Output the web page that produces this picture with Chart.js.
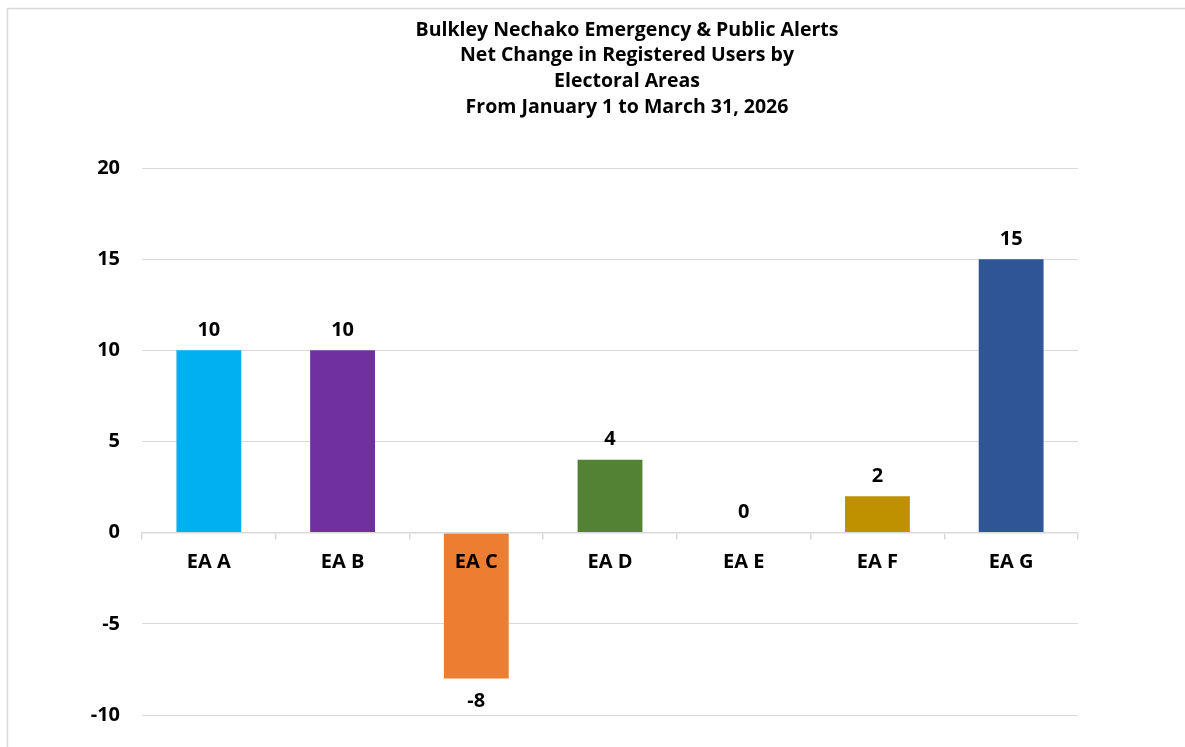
<!DOCTYPE html>
<html>
<head>
<meta charset="utf-8">
<script src="https://cdn.jsdelivr.net/npm/chart.js@4"></script>
<style>
  html, body { margin: 0; padding: 0; background: #fff; overflow: hidden; }
  #wrap { position: absolute; left: 0; top: 0; width: 1185px; height: 747px; overflow: hidden; }
</style>
</head>
<body>
<div id="wrap"><canvas id="c" width="1185" height="749"></canvas></div>
<script>
const titleLines = [
  'Bulkley Nechako Emergency & Public Alerts',
  'Net Change in Registered Users by',
  'Electoral Areas',
  'From January 1 to March 31, 2026'
];
const categories = ['EA A', 'EA B', 'EA C', 'EA D', 'EA E', 'EA F', 'EA G'];
const values = [10, 10, -8, 4, 0, 2, 15];
const barColors = ['#00B0F0', '#7030A0', '#ED7D31', '#548235', '#A5A5A5', '#BF9000', '#2F5597'];
const yMin = -10, yMax = 20, yStep = 5;

const FONT = "'Open Sans', 'Liberation Sans', sans-serif";

const frame = {
  id: 'frame',
  beforeDraw(chart) {
    const ctx = chart.ctx;
    ctx.save();
    ctx.strokeStyle = '#d9d9d9';
    ctx.lineWidth = 1.5;
    ctx.beginPath();
    ctx.moveTo(7.5, chart.height);
    ctx.lineTo(7.5, 8.5);
    ctx.lineTo(chart.width, 8.5);
    ctx.stroke();
    // title
    ctx.font = "bold 19.5px " + FONT;
    ctx.fillStyle = '#000';
    ctx.textAlign = 'center';
    ctx.textBaseline = 'middle';
    titleLines.forEach((t, i) => ctx.fillText(t, 627, 30 + i * 25.7));
    ctx.restore();
  }
};

const valueLabels = {
  id: 'valueLabels',
  afterDatasetsDraw(chart) {
    const ctx = chart.ctx;
    const meta = chart.getDatasetMeta(0);
    ctx.save();
    ctx.font = "bold 20px " + FONT;
    ctx.fillStyle = '#000';
    ctx.textAlign = 'center';
    ctx.textBaseline = 'middle';
    meta.data.forEach((bar, i) => {
      const v = values[i];
      const y = v < 0 ? bar.y + 23 : bar.y - 20;
      ctx.fillText(String(v), bar.x, y);
    });
    ctx.restore();
  }
};

new Chart(document.getElementById('c'), {
  type: 'bar',
  data: {
    labels: categories,
    datasets: [{
      data: values,
      backgroundColor: barColors,
      borderWidth: 0,
      categoryPercentage: 1,
      barPercentage: 0.485
    }]
  },
  options: {
    responsive: false,
    animation: false,
    devicePixelRatio: 1,
    layout: { padding: { left: 0, right: 107, top: 168, bottom: 23 } },
    plugins: {
      legend: { display: false },
      tooltip: { enabled: false },
      title: { display: false }
    },
    scales: {
      x: {
        position: { y: 0 },
        offset: true,
        grid: {
          display: true,
          drawOnChartArea: false,
          drawTicks: true,
          tickLength: 6,
          color: '#d9d9d9',
          lineWidth: 1.5,
          z: 1
        },
        border: { display: true, color: '#d9d9d9', width: 1.5, z: 1 },
        ticks: {
          z: 2,
          color: '#000',
          padding: 12,
          font: { family: FONT, size: 20, weight: 'bold' }
        }
      },
      y: {
        min: yMin,
        max: yMax,
        afterFit(scale) { scale.width = 142; },
        grid: { color: '#d9d9d9', lineWidth: 1, drawTicks: false },
        border: { display: false },
        ticks: {
          stepSize: yStep,
          color: '#000',
          padding: 22,
          font: { family: FONT, size: 20, weight: 'bold' }
        }
      }
    }
  },
  plugins: [frame, valueLabels]
});
</script>
</body>
</html>
